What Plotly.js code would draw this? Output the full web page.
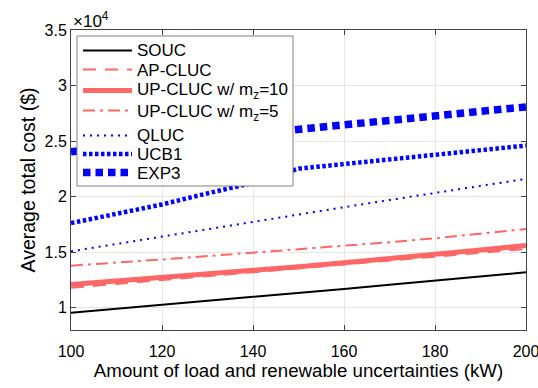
<!DOCTYPE html>
<html>
<head>
<meta charset="utf-8">
<script src="https://cdn.plot.ly/plotly-3.0.1.min.js"></script>
<style>html,body{margin:0;padding:0;background:#fff;}#chart{width:538px;height:388px;}</style>
</head>
<body>
<div id="chart"></div>
<script>
const uncertainty = [100, 110, 120, 130, 140, 150, 160, 170, 180, 190, 200];
const souc      = [9550, 9900, 10250, 10600, 10980, 11350, 11700, 12080, 12450, 12820, 13190];
const apCluc    = [11800, 12150, 12500, 12800, 13150, 13500, 13850, 14200, 14550, 14950, 15300];
const upCluc10  = [12090, 12400, 12700, 13000, 13350, 13700, 14050, 14400, 14800, 15200, 15600];
const upCluc5   = [13790, 14050, 14350, 14650, 14950, 15250, 15550, 15900, 16250, 16650, 17080];
const qluc      = [15080, 15750, 16400, 17100, 17750, 18400, 19050, 19700, 20350, 21000, 21600];
const ucb1      = [17620, 18500, 19300, 20300, 21240, 22520, 22940, 23360, 23780, 24200, 24600];
const exp3      = [24040, 24430, 24820, 25200, 25580, 25950, 26400, 26830, 27250, 27670, 28080];
const seriesNames = ['SOUC', 'AP-CLUC', 'UP-CLUC w/ m<sub>z</sub>=10', 'UP-CLUC w/ m<sub>z</sub>=5', 'QLUC', 'UCB1', 'EXP3'];
const xTickVals = [100, 120, 140, 160, 180, 200];
const yTickVals = [10000, 15000, 20000, 25000, 30000, 35000];
const yTickText = ['1', '1.5', '2', '2.5', '3', '3.5'];

const red = '#ff6666', blue = '#0000ff';
const styles = [
  {color: '#000000', width: 2, dash: 'solid'},
  {color: red, width: 2, dash: '13px,9px'},
  {color: red, width: 5, dash: 'solid'},
  {color: red, width: 2, dash: '12px,5px,3px,5px'},
  {color: blue, width: 2, dash: '2px,5px'},
  {color: blue, width: 4.5, dash: '3.5px,2.5px'},
  {color: blue, width: 7.5, dash: '7.5px,5px'}
];
const seriesData = [souc, apCluc, upCluc10, upCluc5, qluc, ucb1, exp3];
const traces = seriesData.map((y, i) => ({
  x: uncertainty, y: y, name: seriesNames[i], type: 'scatter', mode: 'lines',
  line: styles[i], showlegend: false
}));

// Plot area in pixels (for a MATLAB-like boxed legend drawn in paper coords)
const PL = 71, PR = 526, PT = 30, PB = 330;
const px = v => (v - PL) / (PR - PL);
const py = v => 1 - (v - PT) / (PB - PT);
const legBox = {x0: 77, x1: 293, y0: 36, y1: 186};
const lineRows = [50.5, 69.5, 90.5, 110.5, 135.5, 154, 172.5];
const textRows = [50.5, 70, 91.5, 112.5, 135.5, 154, 173];

const shapes = [{
  type: 'rect', xref: 'paper', yref: 'paper', layer: 'above',
  x0: px(legBox.x0), x1: px(legBox.x1), y0: py(legBox.y1), y1: py(legBox.y0),
  fillcolor: '#ffffff', line: {color: '#808080', width: 1}
}];
const annotations = [];
seriesNames.forEach((name, i) => {
  shapes.push({
    type: 'line', xref: 'paper', yref: 'paper', layer: 'above',
    x0: px(83), x1: px(132), y0: py(lineRows[i]), y1: py(lineRows[i]),
    line: styles[i]
  });
  annotations.push({
    text: name, xref: 'paper', yref: 'paper', x: px(135), y: py(textRows[i]),
    xanchor: 'left', yanchor: 'middle', showarrow: false,
    font: {size: 17, color: '#000'}
  });
});
annotations.push({
  text: '×10<sup>4</sup>', xref: 'paper', yref: 'paper', x: 0, y: 1,
  xanchor: 'left', yanchor: 'bottom', showarrow: false, font: {size: 17}, yshift: -3
});

const fam = 'Liberation Sans, Arial, Helvetica, sans-serif';
const layout = {
  width: 538, height: 388,
  margin: {l: PL, r: 538 - PR, t: PT, b: 388 - PB},
  paper_bgcolor: '#fff', plot_bgcolor: '#fff',
  font: {family: fam, color: '#000', size: 16},
  showlegend: false,
  xaxis: {
    range: [100, 200], tickvals: xTickVals,
    ticks: 'inside', ticklen: 5, tickcolor: '#444', ticklabeloverflow: 'allow',
    ticklabelstandoff: 7,
    showline: true, linecolor: '#444', linewidth: 1, mirror: 'ticks',
    showgrid: true, gridcolor: '#e6e6e6', zeroline: false,
    tickfont: {size: 16},
    title: {text: 'Amount of load and renewable uncertainties (kW)', font: {size: 18.7}, standoff: 3}
  },
  yaxis: {
    range: [8000, 35000], tickvals: yTickVals, ticktext: yTickText,
    ticks: 'inside', ticklen: 5, tickcolor: '#444',
    showline: true, linecolor: '#444', linewidth: 1, mirror: 'ticks',
    showgrid: true, gridcolor: '#e6e6e6', zeroline: false,
    tickfont: {size: 16},
    title: {text: 'Average total cost ($)', font: {size: 19.5}, standoff: 3}
  },
  shapes: shapes,
  annotations: annotations
};
Plotly.newPlot('chart', traces, layout, {displayModeBar: false, staticPlot: true});
</script>
</body>
</html>
